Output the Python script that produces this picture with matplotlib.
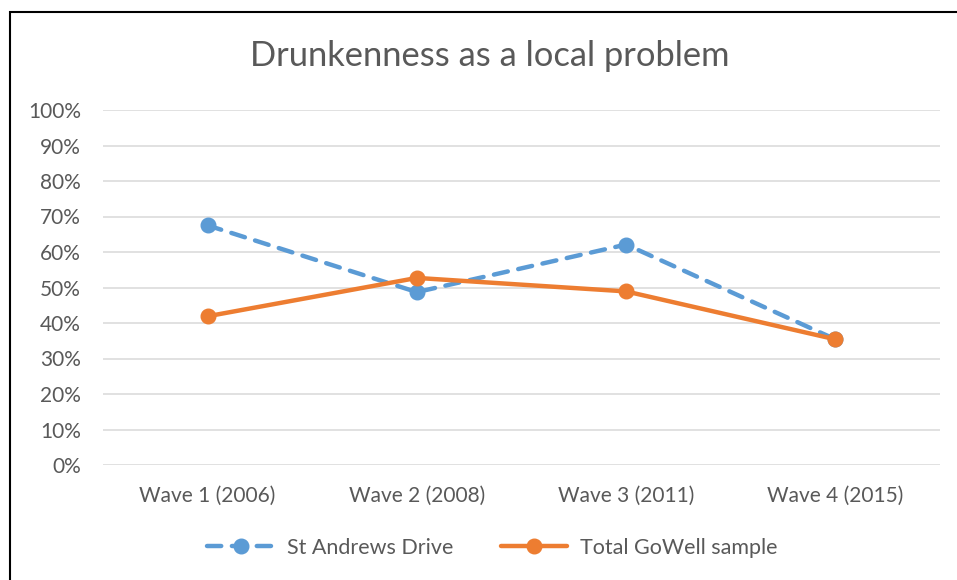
import matplotlib.pyplot as plt
from matplotlib.patches import Rectangle
from matplotlib.ticker import PercentFormatter

plt.rcParams['font.family'] = ['Lato', 'DejaVu Sans']

waves = ["Wave 1 (2006)", "Wave 2 (2008)", "Wave 3 (2011)", "Wave 4 (2015)"]
st_andrews = [0.675, 0.487, 0.621, 0.354]
gowell_total = [0.419, 0.527, 0.489, 0.354]

TEXT = "#595959"

fig = plt.figure(figsize=(9.57, 5.80), dpi=100)
ax = fig.add_axes([103 / 957, 115 / 580, 837 / 957, 355 / 580])

x = range(len(waves))
ax.plot(x, st_andrews, color="#5B9BD5", lw=3.2, ls=(0, (3.2, 2.4)),
        dash_capstyle="round", marker="o", ms=10.5, label="St Andrews Drive", zorder=3)
ax.plot(x, gowell_total, color="#ED7D31", lw=3.2, solid_capstyle="round",
        marker="o", ms=10.5, label="Total GoWell sample", zorder=4)

ax.set_xlim(-0.5, len(waves) - 0.5)
ax.set_ylim(0, 1)
ax.set_yticks([i / 10 for i in range(11)])
ax.yaxis.set_major_formatter(PercentFormatter(1.0, decimals=0))
ax.set_xticks(list(x))
ax.set_xticklabels(waves)
ax.grid(axis="y", color="#D9D9D9", lw=1.1)
ax.set_axisbelow(True)
for s in ax.spines.values():
    s.set_visible(False)
ax.tick_params(length=0, labelsize=15, labelcolor=TEXT)
ax.tick_params(axis="y", pad=16)
ax.tick_params(axis="x", pad=15)

fig.text(490 / 957, 1 - 56 / 580, "Drunkenness as a local problem", ha="center",
         va="center", fontsize=24.8, color=TEXT)

fig.legend(loc="center", bbox_to_anchor=(0.5 + 14 / 957, 1 - 548 / 580), ncol=2,
           frameon=False, fontsize=15.5, labelcolor=TEXT, handlelength=3.1,
           columnspacing=2.2, handletextpad=0.6)

# outer chart frame, runs off the right and bottom edges
fig.patches.append(Rectangle((9.5 / 957, -0.05), 1.0, 1 - 11.5 / 580 + 0.05,
                             transform=fig.transFigure, fill=False, ec="black", lw=1.5))

fig.savefig("out.png", dpi=100)
